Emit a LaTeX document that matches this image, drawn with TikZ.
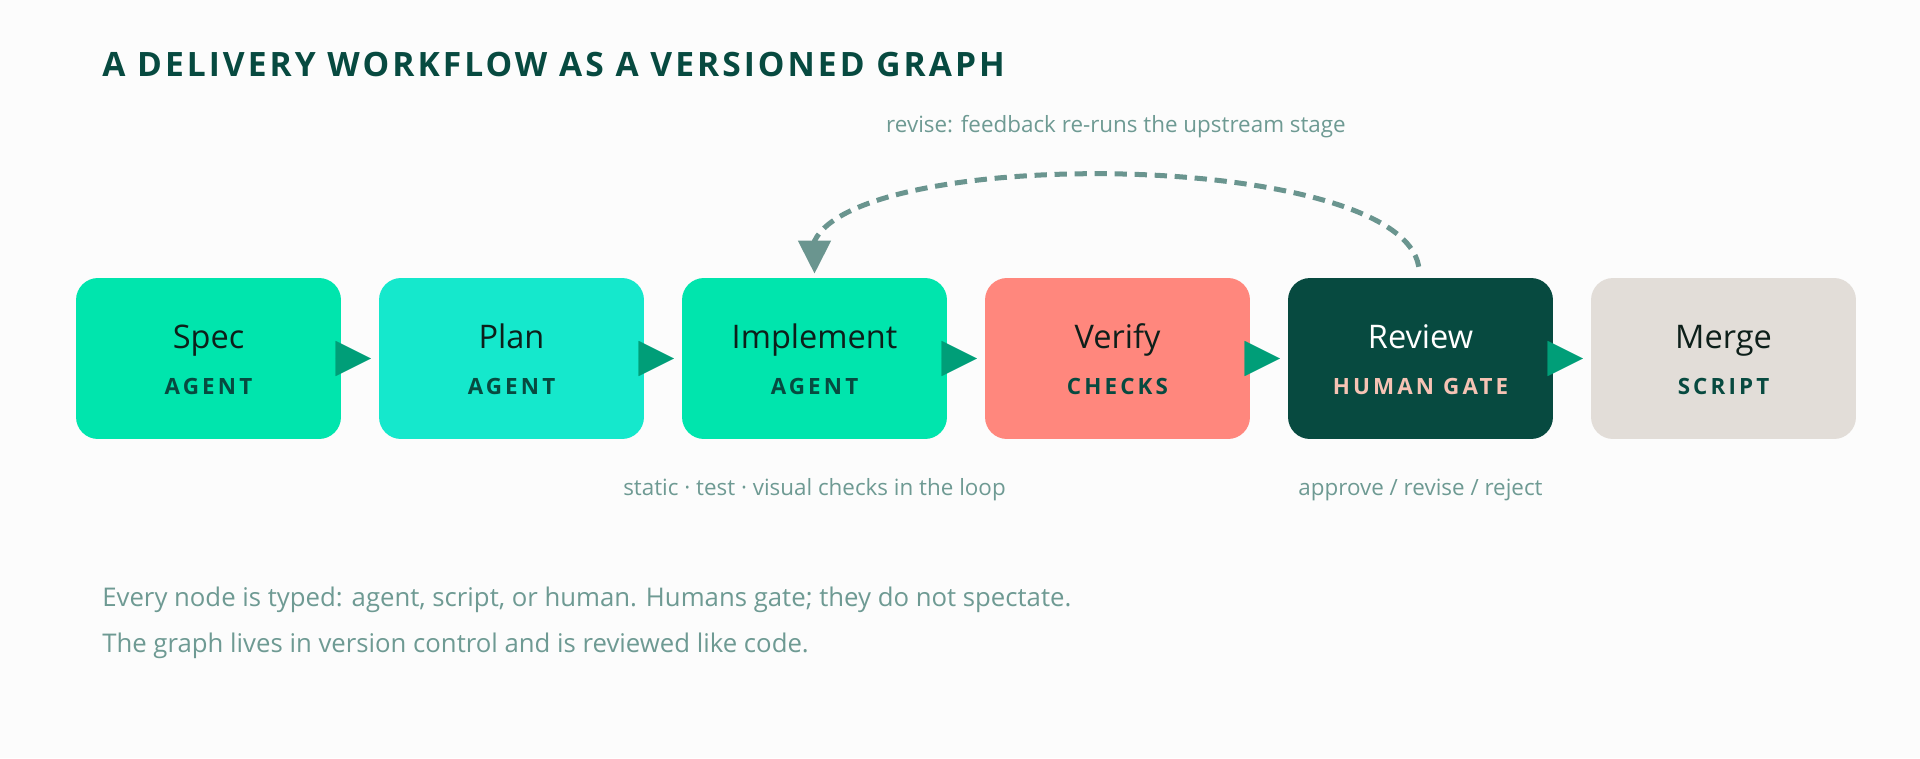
\documentclass[tikz,border=0pt]{standalone}
\usepackage{fontspec}
\usepackage{xcolor}
\usepackage{tikz}
\usetikzlibrary{arrows.meta}
\setmainfont{Open Sans}
\newfontfamily\headfont[LetterSpace=9]{Open Sans}
\newfontfamily\tagfont[LetterSpace=14]{Open Sans}

\definecolor{pagebg}{HTML}{FCFCFC}
\definecolor{deep}{HTML}{074A40}
\definecolor{mint}{HTML}{00E5AD}
\definecolor{aqua}{HTML}{15E8CC}
\definecolor{coral}{HTML}{FF877D}
\definecolor{stone}{HTML}{E2DDD8}
\definecolor{arrowgreen}{HTML}{009E78}
\definecolor{slate}{HTML}{6A958F}
\definecolor{notegrey}{HTML}{6E9A93}
\definecolor{blush}{HTML}{F6C3B4}
\definecolor{ink}{HTML}{0D1F1A}

\begin{document}
\begin{tikzpicture}[x=0.02cm, y=-0.02cm,
    stage/.style={rectangle, rounded corners=12.5pt, minimum width=5.3cm, minimum height=3.22cm, inner sep=0pt},
    stagename/.style={anchor=base, inner sep=0pt, text=ink, font=\fontsize{18.5}{22}\selectfont},
    stagetag/.style={anchor=base, inner sep=0pt, text=deep, font=\tagfont\bfseries\fontsize{12.75}{15}\selectfont},
    flow/.style={-{Triangle[width=20pt, length=20pt]}, line width=0.1pt, draw=arrowgreen, fill=arrowgreen, shorten >=4.5pt},
    note/.style={anchor=base, inner sep=0pt, text=notegrey, font=\fontsize{12.75}{15}\selectfont}]
    \fill[pagebg] (0,0) rectangle (1920,758);
    \useasboundingbox (0,0) rectangle (1920,758);

    \node[anchor=base west, inner sep=0pt, text=deep, font=\headfont\bfseries\fontsize{19.1}{23}\selectfont] (title) at (102,76) {A DELIVERY WORKFLOW AS A VERSIONED GRAPH};

    % stages
    \node[stage, fill=mint] (spec) at (208.5,358.5) {};
    \node[stage, fill=aqua] (plan) at (511.5,358.5) {};
    \node[stage, fill=mint] (impl) at (814.5,358.5) {};
    \node[stage, fill=coral] (verify) at (1117.5,358.5) {};
    \node[stage, fill=deep] (review) at (1420.5,358.5) {};
    \node[stage, fill=stone] (merge) at (1723.5,358.5) {};

    \node[stagename] (specname) at (208.5,348.5) {Spec};
    \node[stagename] (planname) at (511.5,348.5) {Plan};
    \node[stagename] (implname) at (814.5,348.5) {Implement};
    \node[stagename] (verifyname) at (1117.5,348.5) {Verify};
    \node[stagename, text=white] (reviewname) at (1420.5,348.5) {Review};
    \node[stagename] (mergename) at (1723.5,348.5) {Merge};

    \node[stagetag] (spectag) at (208.5,394) {AGENT};
    \node[stagetag] (plantag) at (511.5,394) {AGENT};
    \node[stagetag] (impltag) at (814.5,394) {AGENT};
    \node[stagetag] (verifytag) at (1117.5,394) {CHECKS};
    \node[stagetag, text=blush] (reviewtag) at (1420.5,394) {HUMAN GATE};
    \node[stagetag] (mergetag) at (1723.5,394) {SCRIPT};

    \draw[flow] (spec) -- (plan);
    \draw[flow] (plan) -- (impl);
    \draw[flow] (impl) -- (verify);
    \draw[flow] (verify) -- (review);
    \draw[flow] (review) -- (merge);

    % feedback loop
    \coordinate (loopend) at (814.5,241);
    \draw[slate, line width=2.85pt, dash pattern=on 7pt off 4.4pt, shorten <=6.3pt, shorten >=2.3pt,
          -{Triangle[width=18.2pt, length=18.8pt]}]
        (review.north) .. controls (1400,150) and (860,145) .. (loopend) -- (impl.north);

    \node[note] (revisenote) at (1116,132) {revise: feedback re-runs the upstream stage};
    \node[note] (checksnote) at (814.5,495) {static · test · visual checks in the loop};
    \node[note] (gatenote) at (1420.5,495) {approve / revise / reject};

    \node[anchor=base west, inner sep=0pt, text=notegrey, font=\fontsize{14.65}{17}\selectfont] (footone) at (102,606) {Every node is typed: agent, script, or human. Humans gate; they do not spectate.};
    \node[anchor=base west, inner sep=0pt, text=notegrey, font=\fontsize{14.65}{17}\selectfont] (foottwo) at (102,652) {The graph lives in version control and is reviewed like code.};
\end{tikzpicture}
\end{document}
